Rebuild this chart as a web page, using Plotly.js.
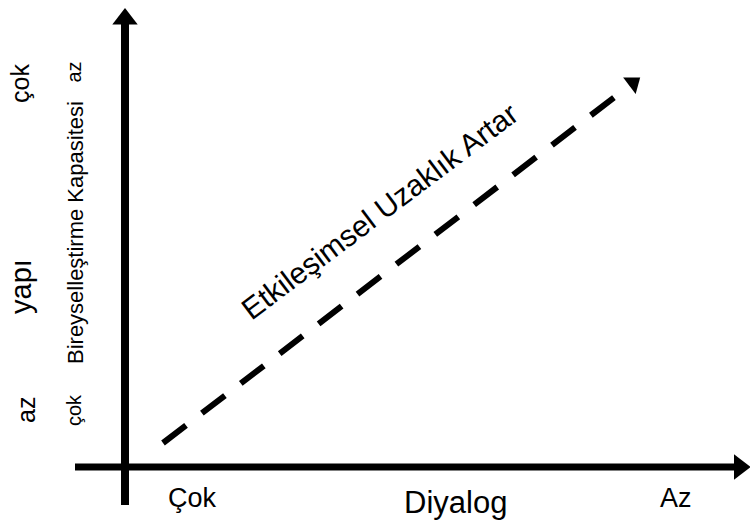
<!DOCTYPE html>
<html>
<head>
<meta charset="utf-8">
<script src="https://cdn.plot.ly/plotly-3.0.1.min.js"></script>
<style>
  body { margin: 0; background: #fff; }
  #chart { width: 750px; height: 523px; }
</style>
</head>
<body>
<div id="chart"></div>
<script>
// koordinatlar: (0,0) iki eksenin kesiştiği nokta
var yatayEksenX = [-1.0, 12.29];
var yatayEksenY = [0, 0];
var dikeyEksenX = [0, 0];
var dikeyEksenY = [-0.76, 8.96];
var uzaklikX = [0.76, 10.16];
var uzaklikY = [0.48, 7.68];

// alt etiketler (Diyalog ekseni)
var altEtiketler = ["Çok", "Diyalog", "Az"];
var altX = [1.34, 6.6, 11.02];
var altY = [-0.62, -0.7, -0.62];

// sol etiketler (yapı)
var yapiEtiketler = ["çok", "yapı", "az"];
var yapiX = [-2.1, -2.08, -1.98];
var yapiY = [7.66, 3.6, 1.14];

// sol etiketler (Bireyselleştirme Kapasitesi)
var bireyEtiketler = ["az", "Bireyselleştirme Kapasitesi", "çok"];
var bireyX = [-1.04, -1.0, -1.02];
var bireyY = [7.89, 4.68, 1.14];

var uzaklikEtiket = "Etkileşimsel Uzaklık Artar";
var uzaklikEtiketX = 5.08;
var uzaklikEtiketY = 5.12;

var arial = "Liberation Sans, Arial, sans-serif";

function okTrace(x, y, genislik, dash, sembol, okBoyu, aci) {
    return {
        x: x,
        y: y,
        type: "scatter",
        mode: "lines+markers",
        line: { color: "black", width: genislik, dash: dash },
        marker: {
            symbol: sembol,
            size: [0, okBoyu],
            color: "black",
            opacity: 1,
            angle: aci,
            line: { width: 0 }
        },
        hoverinfo: "skip"
    };
}

var data = [
    okTrace(yatayEksenX, yatayEksenY, 7, "solid", "triangle-right", 22, 0),
    okTrace(dikeyEksenX, dikeyEksenY, 8, "solid", "triangle-up", 22, 0),
    okTrace(uzaklikX, uzaklikY, 6, "29px,20px", "triangle-up", 18, 53)
];

var annotations = [];
altEtiketler.forEach(function (t, i) {
    annotations.push({
        x: altX[i], y: altY[i], text: t, showarrow: false,
        xanchor: "center", yanchor: "middle",
        font: { family: arial, size: i === 1 ? 31 : 27, color: "black" }
    });
});
yapiEtiketler.forEach(function (t, i) {
    annotations.push({
        x: yapiX[i], y: yapiY[i], text: t, showarrow: false, textangle: -90,
        xanchor: "center", yanchor: "middle",
        font: { family: arial, size: i === 1 ? 29 : 25, color: "black" }
    });
});
bireyEtiketler.forEach(function (t, i) {
    annotations.push({
        x: bireyX[i], y: bireyY[i], text: t, showarrow: false, textangle: -90,
        xanchor: "center", yanchor: "middle",
        font: { family: arial, size: i === 1 ? 22 : 20, color: "black" }
    });
});
annotations.push({
    x: uzaklikEtiketX, y: uzaklikEtiketY, text: uzaklikEtiket, showarrow: false,
    textangle: -37, xanchor: "center", yanchor: "middle",
    font: { family: arial, size: 30, color: "black" }
});

var layout = {
    width: 750,
    height: 523,
    margin: { l: 0, r: 0, t: 0, b: 0 },
    paper_bgcolor: "white",
    plot_bgcolor: "white",
    showlegend: false,
    xaxis: { range: [-2.5, 12.5], visible: false, fixedrange: true },
    yaxis: { range: [-1.12, 9.34], visible: false, fixedrange: true },
    annotations: annotations
};

Plotly.newPlot("chart", data, layout, { displayModeBar: false, staticPlot: true });
</script>
</body>
</html>
